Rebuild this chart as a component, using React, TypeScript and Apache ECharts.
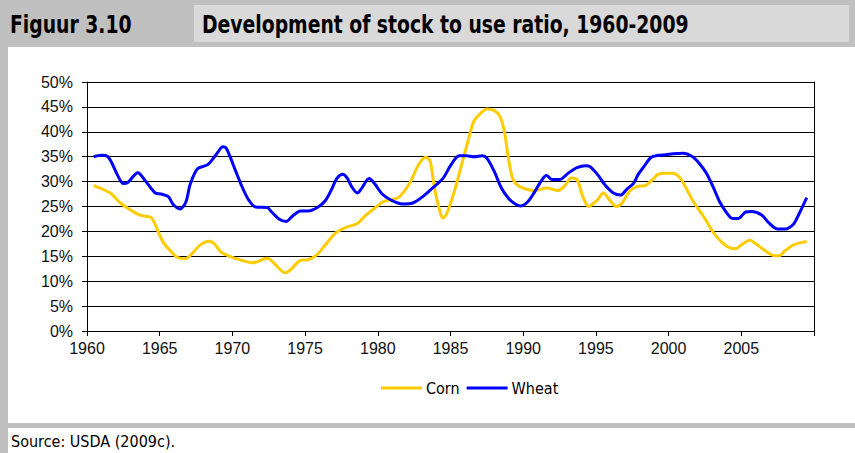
import React, { useEffect, useRef } from "react";
import * as echarts from "echarts";

// ---- Data ----
const chartTitle = "Development of stock to use ratio, 1960-2009";
const figureLabel = "Figuur 3.10";
const sourceText = "Source: USDA (2009c).";
const seriesNames = ["Corn", "Wheat"];

const cornYears = [
  1960.46, 1961.6, 1962.3, 1963.0, 1963.7, 1964.4, 1964.7, 1965.2, 1965.8, 1966.2,
  1966.7, 1967.0, 1967.8, 1968.4, 1968.8, 1969.2, 1969.9, 1970.4, 1971.4, 1972.4,
  1972.7, 1973.2, 1973.6, 1974.0, 1974.7, 1975.2, 1975.8, 1976.4, 1977.1, 1977.8,
  1978.6, 1979.2, 1979.8, 1980.4, 1980.9, 1981.5, 1982.2, 1982.8, 1983.3, 1983.6,
  1983.9, 1984.3, 1984.5, 1984.8, 1985.3, 1985.7, 1986.2, 1986.6, 1987.1, 1987.5,
  1988.0, 1988.4, 1988.7, 1989.0, 1989.3, 1989.7, 1990.3, 1990.8, 1991.6, 1992.4,
  1992.9, 1993.3, 1993.7, 1994.1, 1994.5, 1995.1, 1995.5, 1996.0, 1996.4, 1996.8,
  1997.3, 1997.8, 1998.4, 1998.9, 1999.3, 1999.8, 2000.3, 2000.8, 2001.2, 2001.7,
  2002.4, 2003.2, 2004.0, 2004.6, 2005.0, 2005.6, 2006.0, 2006.7, 2007.3, 2007.6,
  2008.0, 2008.6, 2009.5,
];
const cornValues = [
  29.2, 27.7, 25.7, 24.3, 23.2, 22.8, 21.3, 18.0, 15.9, 14.8,
  14.5, 14.9, 17.3, 18.0, 17.4, 15.9, 14.9, 14.4, 13.7, 14.6,
  14.1, 12.6, 11.7, 12.3, 14.2, 14.3, 15.3, 17.3, 19.7, 20.8,
  21.6, 23.3, 24.7, 26.0, 26.3, 27.0, 29.7, 33.4, 34.9, 34.1,
  28.7, 23.7, 22.7, 24.0, 28.4, 32.7, 38.1, 42.1, 43.8, 44.6,
  44.3, 43.1, 40.1, 34.4, 30.4, 29.1, 28.4, 28.2, 28.7, 28.2,
  29.3, 30.7, 30.4, 27.0, 25.0, 26.3, 27.7, 26.1, 25.0, 25.7,
  28.0, 29.0, 29.2, 30.4, 31.5, 31.7, 31.7, 30.7, 28.7, 26.0,
  23.0, 19.3, 17.0, 16.5, 17.3, 18.2, 17.5, 16.0, 15.1, 15.1,
  16.1, 17.3, 18.0,
];

const wheatYears = [
  1960.46, 1961.0, 1961.4, 1961.7, 1962.1, 1962.5, 1962.8, 1963.5, 1964.0, 1964.7,
  1965.1, 1965.6, 1965.9, 1966.4, 1966.8, 1967.1, 1967.6, 1968.3, 1968.9, 1969.35,
  1969.6, 1970.2, 1970.6, 1971.1, 1971.6, 1972.4, 1972.7, 1973.2, 1973.7, 1974.1,
  1974.7, 1975.2, 1975.9, 1976.4, 1976.8, 1977.2, 1977.6, 1977.9, 1978.2, 1978.6,
  1978.9, 1979.4, 1979.8, 1980.3, 1980.9, 1981.7, 1982.4, 1983.1, 1983.8, 1984.5,
  1985.0, 1985.6, 1986.1, 1986.6, 1987.2, 1987.5, 1988.0, 1988.5, 1989.0, 1989.4,
  1989.8, 1990.3, 1990.8, 1991.3, 1991.6, 1992.0, 1992.5, 1993.1, 1993.7, 1994.3,
  1994.6, 1995.2, 1995.6, 1996.2, 1996.7, 1997.1, 1997.6, 1997.9, 1998.3, 1998.8,
  1999.3, 1999.8, 2000.3, 2001.0, 2001.6, 2002.1, 2002.6, 2003.1, 2003.5, 2004.0,
  2004.4, 2004.8, 2005.3, 2005.7, 2006.4, 2006.9, 2007.5, 2008.0, 2008.6, 2009.0,
  2009.5,
];
const wheatValues = [
  35.0, 35.3, 35.1, 33.8, 31.3, 29.6, 29.8, 31.8, 30.2, 27.7,
  27.5, 27.0, 25.5, 24.5, 25.9, 29.5, 32.6, 33.4, 35.5, 37.0,
  36.6, 32.3, 29.4, 26.4, 24.9, 24.8, 23.9, 22.5, 22.0, 23.0,
  24.1, 24.1, 24.9, 26.2, 28.3, 30.7, 31.5, 30.7, 29.0, 27.7,
  28.7, 30.6, 29.5, 27.5, 26.3, 25.5, 25.7, 27.0, 28.8, 30.7,
  33.2, 35.2, 35.2, 35.0, 35.2, 34.7, 32.1, 28.7, 26.6, 25.6,
  25.1, 25.9, 28.0, 30.4, 31.2, 30.4, 30.4, 31.7, 32.8, 33.2,
  33.0, 31.1, 29.4, 27.7, 27.3, 28.4, 29.7, 31.4, 33.0, 34.9,
  35.3, 35.4, 35.6, 35.7, 35.1, 33.7, 31.7, 28.7, 26.0, 23.7,
  22.6, 22.6, 23.9, 24.0, 23.3, 21.7, 20.5, 20.5, 21.5, 23.7,
  26.8,
];

const xMin = 1960;
const xMax = 2010;
const xStep = 5;
const yMin = 0;
const yMax = 50;
const yStep = 5;

const NARROW = "'Liberation Sans Narrow', 'DejaVu Sans Condensed', 'Liberation Sans', sans-serif";
const REGULAR = "'Liberation Sans', Arial, sans-serif";

export default function App() {
  const ref = useRef<HTMLDivElement>(null);

  useEffect(() => {
    if (!ref.current) return;
    const chart = echarts.init(ref.current, null, { renderer: "svg" });
    const corn = cornYears.map((x, i) => [x, cornValues[i]]);
    const wheat = wheatYears.map((x, i) => [x, wheatValues[i]]);

    chart.setOption({
      animation: false,
      backgroundColor: "#ffffff",
      grid: { left: 87, right: 41, top: 82, bottom: 122, containLabel: false },
      legend: {
        data: seriesNames,
        left: 381,
        top: 380,
        icon: "rect",
        itemWidth: 41,
        itemHeight: 3,
        itemGap: 7,
        padding: 0,
        textStyle: { fontFamily: NARROW, fontSize: 16, color: "#000", padding: [0, 0, 0, -1] },
      },
      xAxis: {
        type: "value",
        min: xMin,
        max: xMax,
        interval: xStep,
        axisLine: { show: true, lineStyle: { color: "#000", width: 1 } },
        axisTick: { show: true, length: 5, lineStyle: { color: "#000" } },
        axisLabel: {
          margin: 9,
          fontFamily: REGULAR,
          fontSize: 16,
          color: "#111",
          formatter: (v: number) => (v === xMax ? "" : String(v)),
        },
        splitLine: { show: false },
      },
      yAxis: [
        {
          type: "value",
          min: yMin,
          max: yMax,
          interval: yStep,
          axisLine: { show: true, lineStyle: { color: "#000", width: 1 } },
          axisTick: { show: true, length: 5, lineStyle: { color: "#000" } },
          axisLabel: {
            margin: 14,
            fontFamily: REGULAR,
            fontSize: 16,
            color: "#111",
            formatter: "{value}%",
          },
          splitLine: { show: true, lineStyle: { color: "#000", width: 1 } },
        },
        {
          type: "value",
          position: "right",
          min: yMin,
          max: yMax,
          interval: yStep,
          axisLine: { show: true, lineStyle: { color: "#000", width: 1 } },
          axisTick: { show: false },
          axisLabel: { show: false },
          splitLine: { show: false },
        },
      ],
      series: [
        {
          name: seriesNames[0],
          type: "line",
          data: corn,
          smooth: 0.3,
          symbol: "none",
          lineStyle: { color: "#FFCC00", width: 3 },
          itemStyle: { color: "#FFCC00" },
        },
        {
          name: seriesNames[1],
          type: "line",
          data: wheat,
          smooth: 0.3,
          symbol: "none",
          lineStyle: { color: "#0000FF", width: 3 },
          itemStyle: { color: "#0000FF" },
        },
      ],
      graphic: [
        { type: "rect", shape: { x: 0, y: 0, width: 855, height: 47 }, style: { fill: "#c0c0c0" }, silent: true },
        { type: "rect", shape: { x: 194, y: 5, width: 655, height: 37 }, style: { fill: "#d9d9d9" }, silent: true },
        { type: "rect", shape: { x: 0, y: 47, width: 8, height: 406 }, style: { fill: "#c0c0c0" }, silent: true },
        { type: "rect", shape: { x: 0, y: 423, width: 855, height: 5 }, style: { fill: "#c0c0c0" }, silent: true },
        {
          type: "text",
          x: 10,
          y: 24,
          scaleX: 0.87,
          style: { text: figureLabel, fontFamily: NARROW, fontWeight: "bold", fontSize: 24, fill: "#000", textVerticalAlign: "middle" },
          silent: true,
        },
        {
          type: "text",
          x: 202,
          y: 24,
          scaleX: 0.87,
          style: { text: chartTitle, fontFamily: NARROW, fontWeight: "bold", fontSize: 24, fill: "#000", textVerticalAlign: "middle" },
          silent: true,
        },
        {
          type: "text",
          x: 11,
          y: 441,
          style: { text: sourceText, fontFamily: NARROW, fontSize: 16, fill: "#000", textVerticalAlign: "middle" },
          silent: true,
        },
      ],
    });

    return () => chart.dispose();
  }, []);

  return (
    <div
      ref={ref}
      style={{ position: "fixed", left: 0, top: 0, width: 855, height: 453 }}
    />
  );
}
